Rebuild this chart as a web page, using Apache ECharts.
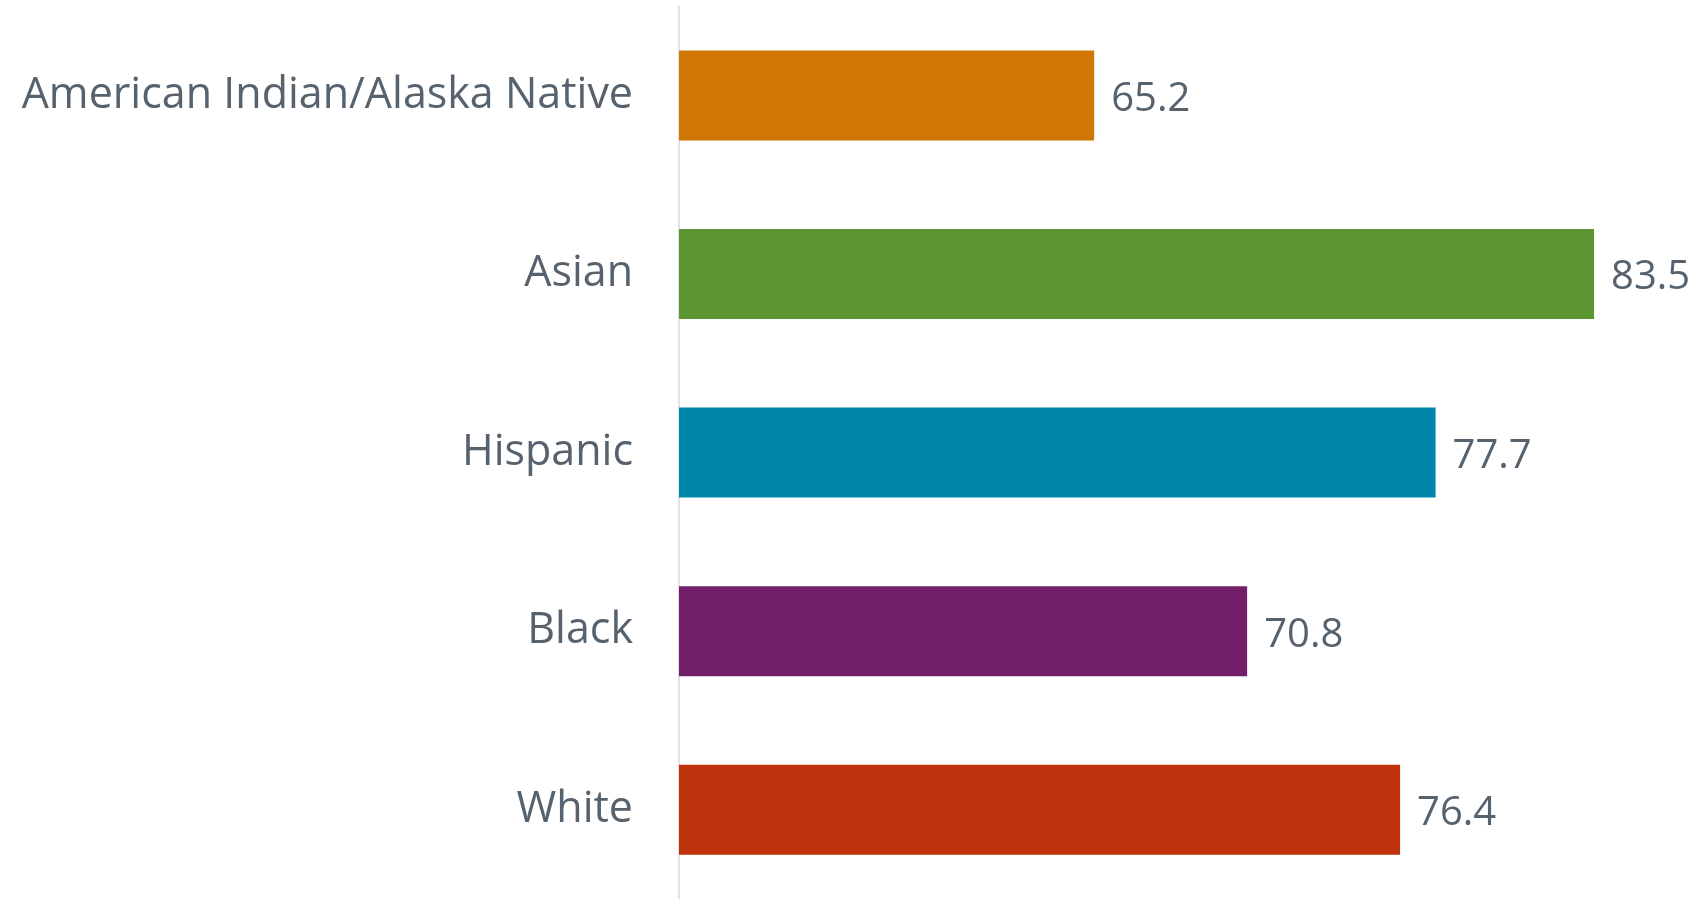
<!DOCTYPE html>
<html>
<head>
<meta charset="utf-8">
<style>
html, body { margin: 0; padding: 0; background: #fff; }
#chart { width: 1696px; height: 899px; }
</style>
<script src="https://cdn.jsdelivr.net/npm/echarts@6/dist/echarts.min.js"></script>
</head>
<body>
<div id="chart"></div>
<script>
// 类别与数值
var categories = ['American Indian/Alaska Native', 'Asian', 'Hispanic', 'Black', 'White'];
var values = [65.2, 83.5, 77.7, 70.8, 76.4];
var barColors = ['#CF7604', '#5C9632', '#0086AB', '#721E69', '#BF330C'];

var textColor = '#56636E';
var myChart = echarts.init(document.getElementById('chart'));

var seriesData = values.map(function (v, i) {
	return { value: v, itemStyle: { color: barColors[i] } };
});

myChart.setOption({
	animation: false,
	textStyle: { fontFamily: 'Open Sans' },
	grid: { left: 679, right: 61, top: 6.2, height: 896.3, containLabel: false },
	xAxis: {
		type: 'value',
		min: 50,
		max: 85,
		show: false
	},
	yAxis: {
		type: 'category',
		inverse: true,
		data: categories,
		axisLine: { show: true, lineStyle: { color: '#E3E3E3', width: 2 } },
		axisTick: { show: false },
		axisLabel: {
			color: textColor,
			fontSize: 43,
			fontFamily: 'Open Sans',
			margin: 46,
			padding: [5, 0, 0, 0]
		}
	},
	series: [{
		type: 'bar',
		data: seriesData,
		barWidth: 90,
		label: {
			show: true,
			position: 'right',
			distance: 17,
			offset: [0, 4],
			color: textColor,
			fontSize: 40,
			fontFamily: 'Open Sans',
			formatter: function (p) { return p.value.toFixed(1); }
		}
	}]
});
</script>
</body>
</html>
